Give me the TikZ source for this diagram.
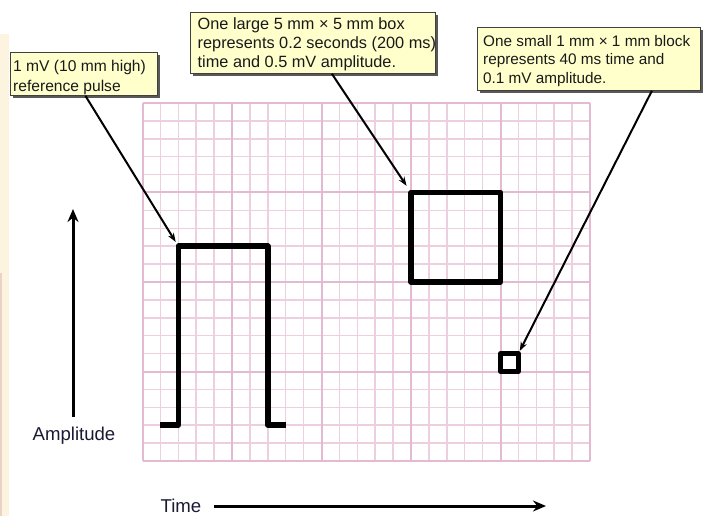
\documentclass[tikz,border=0pt]{standalone}
\usepackage{fontspec}
\setmainfont{Liberation Sans}
\usetikzlibrary{arrows.meta,shadows,calc}
\definecolor{minorgrid}{HTML}{EECFE0}
\definecolor{majorgrid}{HTML}{E3BAD1}
\definecolor{calloutfill}{HTML}{FFFFCC}
\definecolor{stripfill}{HTML}{FCF4DE}
\definecolor{stripshade}{HTML}{E9D2C6}
\definecolor{labeltext}{HTML}{1A1A33}
\begin{document}
\begin{tikzpicture}[x=1pt,y=-1pt,
  callbox/.style={draw=black!75, line width=0.8pt, fill=calloutfill, anchor=north west, inner sep=0pt,
    general shadow={fill=black!65, shadow xshift=3pt, shadow yshift=-3pt}},
  calltext/.style={anchor=north west, align=left, inner sep=0pt, text=black!90},
  pointer/.style={draw=black, line width=2pt, -{Stealth[length=9pt,width=6.5pt]}},
  axisarrow/.style={draw=black, line width=3pt, -{Stealth[length=13pt,width=11pt]}},
  trace/.style={draw=black, line width=5.5pt, line join=round},
  axislabel/.style={font=\fontsize{18.6}{20}\selectfont, text=labeltext, inner sep=2pt}]
\useasboundingbox (0,0) rectangle (713,516);
\fill[stripfill] (0,34) rectangle (9,516);
\fill[stripshade] (0,273) rectangle (2,516);
% ECG grid
\begin{scope}[shift={(142.5,103)}, x=17.9pt, y=-17.9pt]
  \foreach \i in {0,...,25} {\draw[minorgrid, line width=1.5pt] (\i,0) -- (\i,20);}
  \foreach \j in {0,...,20} {\draw[minorgrid, line width=1.5pt] (0,\j) -- (25,\j);}
  \foreach \i in {0,5,...,25} {\draw[majorgrid, line width=2pt] (\i,0) -- (\i,20);}
  \foreach \j in {0,5,...,20} {\draw[majorgrid, line width=2pt] (0,\j) -- (25,\j);}
  % reference pulse
  \draw[trace] (1,18) -- (2,18) -- (2,8) -- (7,8) -- (7,18) -- (8,18);
  \coordinate (pulsecorner) at (2,8);
  % large box
  \draw[trace] (15,5) rectangle (20,10);
  \coordinate (bigcorner) at (15,5);
  % small box
  \draw[draw=black, line width=4.5pt, line join=round] (20,14) rectangle (21,15);
  \coordinate (smallcorner) at (21,14);
\end{scope}
% callouts
\node[callbox, minimum width=147pt, minimum height=43pt] (c1) at (10,52) {};
\node[calltext, font=\fontsize{15.6}{20}\selectfont] (t1) at (13,60) {1 mV (10 mm high)\\reference pulse};
\node[callbox, minimum width=245pt, minimum height=61pt] (c2) at (190,12) {};
\node[calltext, font=\fontsize{16.3}{19}\selectfont] (t2) at (197.5,17.5) {One large 5 mm × 5 mm box\\represents 0.2 seconds (200 ms)\\time and 0.5 mV amplitude.};
\node[callbox, minimum width=223pt, minimum height=63pt] (c3) at (477,27) {};
\node[calltext, font=\fontsize{15.3}{18.6}\selectfont] (t3) at (483,35) {One small 1 mm × 1 mm block\\represents 40 ms time and\\0.1 mV amplitude.};
% pointers
\draw[pointer, shorten >=5pt] ([xshift=1.5pt]c1.south) -- (pulsecorner);
\draw[pointer, shorten >=8pt] ([xshift=19pt]c2.south) -- (bigcorner);
\draw[pointer, shorten >=3pt] ([xshift=63pt]c3.south) -- (smallcorner);
% axes
\node[axislabel] (amp) at (74,436) {Amplitude};
\coordinate (amptip) at (73,209);
\draw[axisarrow] ([xshift=-1pt,yshift=8pt]amp.north) -- (amptip);
\node[axislabel] (time) at (181,506) {Time};
\coordinate (timetip) at (546,506);
\draw[axisarrow] ([xshift=10pt]time.east) -- (timetip);
\end{tikzpicture}
\end{document}
